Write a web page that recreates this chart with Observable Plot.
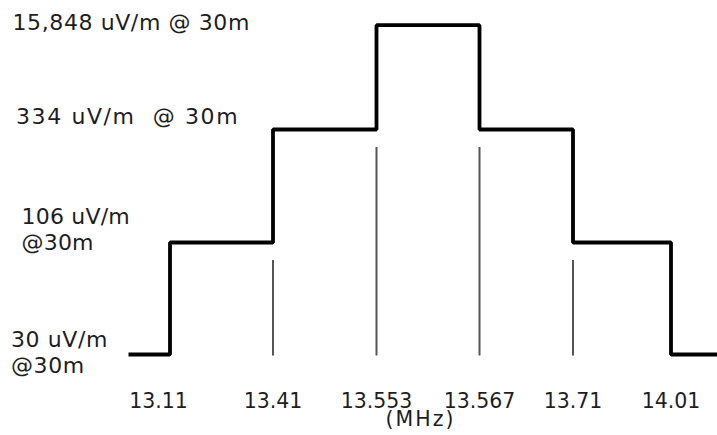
<!DOCTYPE html>
<html><head><meta charset="utf-8">
<script src="https://cdn.jsdelivr.net/npm/d3@7"></script>
<script src="https://cdn.jsdelivr.net/npm/@observablehq/plot@0.6"></script>
<style>
html,body{margin:0;padding:0;background:#fff;}
#chart svg{display:block;}
</style></head><body><div id="chart"></div>
<script>
// ---- data ----
const frequencies = ["13.11", "13.41", "13.553", "13.567", "13.71", "14.01"];
const levelValues = [30, 106, 334, 15848];
const levelLabels = ["30 uV/m\n@30m", "106 uV/m\n@30m", "334 uV/m  @ 30m", "15,848 uV/m @ 30m"];
// level (index into levelValues) of each band: below 13.11, 13.11–13.41, …, above 14.01
const bandLevels = [0, 1, 2, 3, 2, 1, 0];
const axisUnit = "(MHz)";

// ---- layout ----
const W = 717, H = 435;
const idx = frequencies.map((d, i) => i);
const xDomain = [-0.41, ...idx, idx.length - 1 + 0.47];
const xRange = [128, 169.5, 272.5, 376, 479, 572.5, 670.5, 717];
const yRange = [354, 242, 129, 24.7];
const labelLayout = [
  {dx: 10.5, dy: 18, lh: 1.14, ls: 0.6},
  {dx: 21, dy: 7.5, lh: 1.2, ls: 0.2},
  {dx: 15.5, dy: -6, lh: 1.2, ls: 1.6},
  {dx: 12, dy: 4.6, lh: 1.2, ls: 0.6}
];
const textFill = "#1e1e1e";

// step line points (step-after)
const stepPts = bandLevels.map((lv, i) => ({x: i === 0 ? xDomain[0] : i - 1, y: lv}));
stepPts.push({x: xDomain[xDomain.length - 1], y: bandLevels[bandLevels.length - 1]});

// thin guide rules at inner boundaries, up to the lower adjacent level
const innerRules = idx.slice(1, -1).map(b => ({
  x: b, top: Math.min(bandLevels[b], bandLevels[b + 1]), bottom: 0
}));

const marks = [
  Plot.ruleX(innerRules, {x: "x", y1: "top", y2: "bottom", insetTop: 18, insetBottom: -1.5,
    stroke: "#555", strokeWidth: 2}),
  Plot.line(stepPts, {x: "x", y: "y", curve: "step-after", stroke: "#000",
    strokeWidth: 3.8, strokeLinejoin: "miter", strokeLinecap: "butt"})
];

levelLabels.forEach((t, i) => {
  const L = labelLayout[i];
  marks.push(Plot.text([{y: i, t}], {
    frameAnchor: "left", y: "y", text: "t", textAnchor: "start", lineAnchor: "bottom",
    dx: L.dx, dy: L.dy, lineHeight: L.lh, fontSize: 22, fill: textFill
  }));
});

const tickData = frequencies.map((t, i) => ({x: i, y: 0, t}));
marks.push(Plot.text(tickData.slice(0, 1), {x: "x", y: "y", text: "t", lineAnchor: "bottom",
  dx: -11.5, dy: 53, fontSize: 20.5, fill: textFill}));
marks.push(Plot.text(tickData.slice(1), {x: "x", y: "y", text: "t", lineAnchor: "bottom",
  dy: 53, fontSize: 20.5, fill: textFill}));
marks.push(Plot.text([{x: 2.5, y: 0, t: axisUnit}], {x: "x", y: "y", text: "t", lineAnchor: "bottom",
  dx: -7.5, dy: 71, fontSize: 20.5, fill: textFill}));

const chart = Plot.plot({
  width: W, height: H, margin: 0,
  style: {fontFamily: "DejaVu Sans", background: "#fff", overflow: "visible"},
  x: {type: "linear", domain: xDomain, range: xRange, axis: null},
  y: {type: "linear", domain: [0, 1, 2, 3], range: yRange, axis: null},
  marks
});
// letter spacing to mimic the wide bitmap font of the original
const textGroups = d3.select(chart).selectAll('g[aria-label="text"]').nodes();
textGroups.slice(0, 4).forEach((g, i) => g.style.letterSpacing = labelLayout[i].ls + "px");
if (textGroups[6]) textGroups[6].style.letterSpacing = "2px";
document.getElementById("chart").appendChild(chart);
</script>
</body></html>
